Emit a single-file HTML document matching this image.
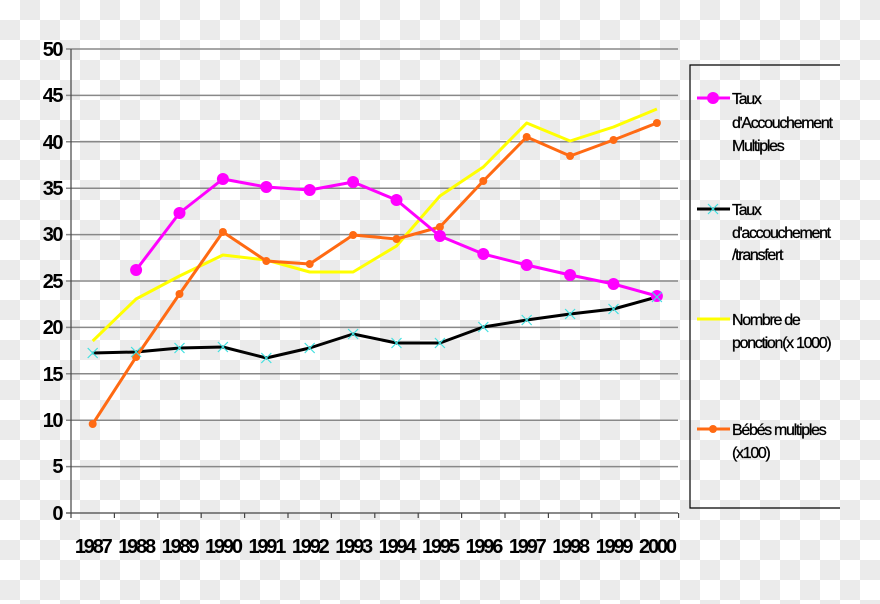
<!DOCTYPE html><html><head><style>body{margin:0}svg{display:block}</style></head><body>
<svg width="880" height="604" xmlns="http://www.w3.org/2000/svg" font-family="Liberation Sans, sans-serif">
<defs><pattern id="ck" width="40" height="40" patternUnits="userSpaceOnUse"><rect width="40" height="40" fill="#fff"/><rect x="20" width="20" height="20" fill="#ebebeb"/><rect y="20" width="20" height="20" fill="#ebebeb"/></pattern></defs>
<rect width="880" height="604" fill="url(#ck)"/>
<g stroke="#888" stroke-width="1.5">
<line x1="66" x2="678" y1="49" y2="49"/><line x1="66" x2="678" y1="95.4" y2="95.4"/><line x1="66" x2="678" y1="141.8" y2="141.8"/><line x1="66" x2="678" y1="188.2" y2="188.2"/><line x1="66" x2="678" y1="234.6" y2="234.6"/><line x1="66" x2="678" y1="281" y2="281"/><line x1="66" x2="678" y1="327.4" y2="327.4"/><line x1="66" x2="678" y1="373.8" y2="373.8"/><line x1="66" x2="678" y1="420.2" y2="420.2"/><line x1="66" x2="678" y1="466.6" y2="466.6"/>
</g>
<g stroke="#444" stroke-width="1.2"><line x1="71" y1="49" x2="71" y2="518"/><line x1="66" y1="513" x2="678" y2="513"/>
<path d="M114.4 513v5M157.8 513v5M201.2 513v5M244.6 513v5M288 513v5M331.4 513v5M374.8 513v5M418.2 513v5M461.6 513v5M505 513v5M548.4 513v5M591.8 513v5M635.2 513v5M678.6 513v5"/></g>
<g font-size="20" font-weight="bold" text-anchor="end" letter-spacing="-1.5">
<text x="62" y="56">50</text><text x="62" y="102">45</text><text x="62" y="149">40</text><text x="62" y="195">35</text><text x="62" y="241">30</text><text x="62" y="288">25</text><text x="62" y="334">20</text><text x="62" y="381">15</text><text x="62" y="427">10</text><text x="62" y="473">5</text><text x="62" y="520">0</text></g>
<g font-size="20" font-weight="bold" text-anchor="middle" letter-spacing="-2.2">
<text x="92.7" y="553">1987</text><text x="136.1" y="553">1988</text><text x="179.5" y="553">1989</text><text x="222.9" y="553">1990</text><text x="266.3" y="553">1991</text><text x="309.7" y="553">1992</text><text x="353.1" y="553">1993</text><text x="396.5" y="553">1994</text><text x="439.9" y="553">1995</text><text x="483.3" y="553">1996</text><text x="526.7" y="553">1997</text><text x="570.1" y="553">1998</text><text x="613.5" y="553">1999</text><text x="656.9" y="553">2000</text></g>
<g fill="none" stroke-width="3" stroke-linejoin="round">
<polyline stroke="#ffff00" points="92.7,341 136.1,299 179.5,276 222.9,255 266.3,260 309.7,272 353.1,272 396.5,246 439.9,196 483.3,167 526.7,123 570.1,141 613.5,127 656.9,109"/>
<polyline stroke="#000" points="92.7,353 136.1,352 179.5,348 222.9,347 266.3,358 309.7,348 353.1,334 396.5,343 439.9,343 483.3,327 526.7,320 570.1,314 613.5,309 656.9,297"/>
<polyline stroke="#ff6a13" points="92.7,424 136.1,357 179.5,294 222.9,232 266.3,261 309.7,264 353.1,235 396.5,239 439.9,227 483.3,181 526.7,137 570.1,156 613.5,140 656.9,123"/>
<polyline stroke="#ff00ff" points="136.1,270 179.5,213 222.9,179 266.3,187 309.7,190 353.1,182 396.5,200 439.9,236 483.3,254 526.7,265 570.1,275 613.5,284 656.9,296"/>
</g>
<g fill="#ff6a13"><circle cx="92.7" cy="424" r="4"/><circle cx="136.1" cy="357" r="4"/><circle cx="179.5" cy="294" r="4"/><circle cx="222.9" cy="232" r="4"/><circle cx="266.3" cy="261" r="4"/><circle cx="309.7" cy="264" r="4"/><circle cx="353.1" cy="235" r="4"/><circle cx="396.5" cy="239" r="4"/><circle cx="439.9" cy="227" r="4"/><circle cx="483.3" cy="181" r="4"/><circle cx="526.7" cy="137" r="4"/><circle cx="570.1" cy="156" r="4"/><circle cx="613.5" cy="140" r="4"/><circle cx="656.9" cy="123" r="4"/></g>
<g fill="#ff00ff"><circle cx="136.1" cy="270" r="6"/><circle cx="179.5" cy="213" r="6"/><circle cx="222.9" cy="179" r="6"/><circle cx="266.3" cy="187" r="6"/><circle cx="309.7" cy="190" r="6"/><circle cx="353.1" cy="182" r="6"/><circle cx="396.5" cy="200" r="6"/><circle cx="439.9" cy="236" r="6"/><circle cx="483.3" cy="254" r="6"/><circle cx="526.7" cy="265" r="6"/><circle cx="570.1" cy="275" r="6"/><circle cx="613.5" cy="284" r="6"/><circle cx="656.9" cy="296" r="6"/></g>
<g stroke="#40e0e0" stroke-width="1.2">
<path d="M87.7 348l10 10M97.7 348l-10 10M131.1 347l10 10M141.1 347l-10 10M174.5 343l10 10M184.5 343l-10 10M217.9 342l10 10M227.9 342l-10 10M261.3 353l10 10M271.3 353l-10 10M304.7 343l10 10M314.7 343l-10 10M348.1 329l10 10M358.1 329l-10 10M391.5 338l10 10M401.5 338l-10 10M434.9 338l10 10M444.9 338l-10 10M478.3 322l10 10M488.3 322l-10 10M521.7 315l10 10M531.7 315l-10 10M565.1 309l10 10M575.1 309l-10 10M608.5 304l10 10M618.5 304l-10 10M651.9 292l10 10M661.9 292l-10 10"/></g>
<path d="M840 65H690V508H840" fill="none" stroke="#000" stroke-width="1.2"/>
<g stroke-width="3"><line x1="697" x2="730" y1="98" y2="98" stroke="#ff00ff"/><line x1="697" x2="730" y1="209" y2="209" stroke="#000"/><line x1="697" x2="730" y1="319" y2="319" stroke="#ffff00"/><line x1="697" x2="730" y1="429" y2="429" stroke="#ff6a13"/></g>
<circle cx="713" cy="98" r="6" fill="#ff00ff"/><path d="M708 204l10 10M718 204l-10 10" stroke="#40e0e0" stroke-width="1.2"/><circle cx="713" cy="429" r="4" fill="#ff6a13"/>
<svg x="0" y="0" width="840" height="604" overflow="hidden">
<g font-size="16" letter-spacing="-1.3" stroke="#000" stroke-width="0.3">
<text x="732" y="104">Taux</text><text x="732" y="128">d'Accouchement</text><text x="732" y="151">Multiples</text>
<text x="732" y="215">Taux</text><text x="732" y="238">d'accouchement</text><text x="732" y="260">/transfert</text>
<text x="732" y="325">Nombre de</text><text x="732" y="348">ponction(x 1000)</text>
<text x="732" y="435">Bébés multiples</text><text x="732" y="458">(x100)</text></g></svg>
</svg>
</body></html>
